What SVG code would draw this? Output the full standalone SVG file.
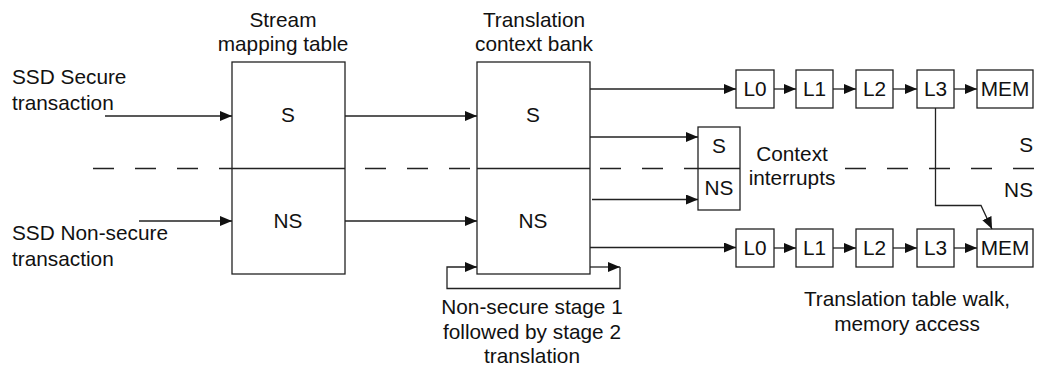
<svg xmlns="http://www.w3.org/2000/svg" width="1044" height="368" viewBox="0 0 1044 368">
<style>
text{font-family:"Liberation Sans",Arial,sans-serif;font-size:20.8px;fill:#111}
.m{text-anchor:middle}
.box{fill:#fff;stroke:#222;stroke-width:1.3}
.ln{fill:none;stroke:#222;stroke-width:1.3}
.arr{fill:none;stroke:#222;stroke-width:1.3;marker-end:url(#ah)}
.dash{fill:none;stroke:#222;stroke-width:1.3;stroke-dasharray:21 21}
</style>
<defs>
<marker id="ah" markerUnits="userSpaceOnUse" markerWidth="13" markerHeight="11" refX="12" refY="5" orient="auto">
<path d="M0,0 L12,5 L0,10 z" fill="#111"/>
</marker>
</defs>
<rect width="1044" height="368" fill="#fff"/>

<g id="labels">
<text class="m" x="283" y="27">Stream</text>
<text class="m" x="283" y="51">mapping table</text>
<text class="m" x="534" y="27">Translation</text>
<text class="m" x="534" y="51">context bank</text>
<text x="12" y="84">SSD Secure</text>
<text x="12" y="110">transaction</text>
<text x="12" y="240">SSD Non-secure</text>
<text x="12" y="266">transaction</text>
<text class="m" x="792" y="161">Context</text>
<text class="m" x="792" y="185">interrupts</text>
<text x="1033" y="152" text-anchor="end">S</text>
<text x="1033" y="197" text-anchor="end">NS</text>
<text class="m" x="532" y="314">Non-secure stage 1</text>
<text class="m" x="532" y="339">followed by stage 2</text>
<text class="m" x="532" y="363">translation</text>
<text class="m" x="907" y="306">Translation table walk,</text>
<text class="m" x="907" y="331">memory access</text>
</g>

<g id="smt">
<rect class="box" x="232" y="62" width="113" height="212"/>
<line class="ln" x1="232" y1="168.5" x2="345" y2="168.5"/>
<text class="m" x="288" y="122">S</text>
<text class="m" x="288" y="228">NS</text>
</g>

<g id="tcb">
<rect class="box" x="477" y="62" width="113" height="212"/>
<line class="ln" x1="477" y1="168.5" x2="590" y2="168.5"/>
<text class="m" x="533" y="122">S</text>
<text class="m" x="533" y="228">NS</text>
</g>

<g id="ctxint">
<rect class="box" x="698" y="127" width="42" height="83"/>
<line class="ln" x1="698" y1="168.5" x2="740" y2="168.5"/>
<text class="m" x="719" y="153">S</text>
<text class="m" x="719" y="195">NS</text>
</g>

<g id="walk-s">
<rect class="box" x="736" y="70" width="38" height="38"/>
<text class="m" x="755" y="96">L0</text>
<rect class="box" x="796" y="70" width="37" height="38"/>
<text class="m" x="814.5" y="96">L1</text>
<rect class="box" x="856" y="70" width="37" height="38"/>
<text class="m" x="874.5" y="96">L2</text>
<rect class="box" x="917" y="70" width="37" height="38"/>
<text class="m" x="935.5" y="96">L3</text>
<rect class="box" x="977" y="70" width="56" height="38"/>
<text class="m" x="1005" y="96">MEM</text>
</g>

<g id="walk-ns">
<rect class="box" x="736" y="229" width="38" height="38"/>
<text class="m" x="755" y="255">L0</text>
<rect class="box" x="796" y="229" width="37" height="38"/>
<text class="m" x="814.5" y="255">L1</text>
<rect class="box" x="856" y="229" width="37" height="38"/>
<text class="m" x="874.5" y="255">L2</text>
<rect class="box" x="917" y="229" width="37" height="38"/>
<text class="m" x="935.5" y="255">L3</text>
<rect class="box" x="977" y="229" width="56" height="38"/>
<text class="m" x="1005" y="255">MEM</text>
</g>

<g id="connectors">
<line class="dash" x1="93" y1="168.5" x2="232" y2="168.5"/>
<line class="dash" x1="365" y1="168.5" x2="475" y2="168.5"/>
<line class="dash" x1="600" y1="168.5" x2="698" y2="168.5"/>
<line class="dash" x1="845" y1="168.5" x2="1044" y2="168.5"/>

<line class="arr" x1="105" y1="116" x2="232" y2="116"/>
<line class="arr" x1="139" y1="221" x2="232" y2="221"/>
<line class="arr" x1="345" y1="116" x2="477" y2="116"/>
<line class="arr" x1="345" y1="221" x2="477" y2="221"/>

<line class="arr" x1="590" y1="89" x2="736" y2="89"/>
<line class="arr" x1="590" y1="137" x2="698" y2="137"/>
<line class="arr" x1="592" y1="199.5" x2="698" y2="199.5"/>
<line class="arr" x1="590" y1="247.5" x2="736" y2="247.5"/>

<line class="arr" x1="590" y1="267" x2="620" y2="267"/>
<polyline class="arr" points="620,267 620,288.5 447,288.5 447,267 477,267"/>

<line class="arr" x1="774" y1="89" x2="796" y2="89"/>
<line class="arr" x1="833" y1="89" x2="856" y2="89"/>
<line class="arr" x1="893" y1="89" x2="917" y2="89"/>
<line class="arr" x1="954" y1="89" x2="977" y2="89"/>

<line class="arr" x1="774" y1="248" x2="796" y2="248"/>
<line class="arr" x1="833" y1="248" x2="856" y2="248"/>
<line class="arr" x1="893" y1="248" x2="917" y2="248"/>
<line class="arr" x1="954" y1="248" x2="977" y2="248"/>

<polyline class="arr" points="935.5,108 935.5,205.5 981,205.5 992,229"/>
</g>
</svg>
